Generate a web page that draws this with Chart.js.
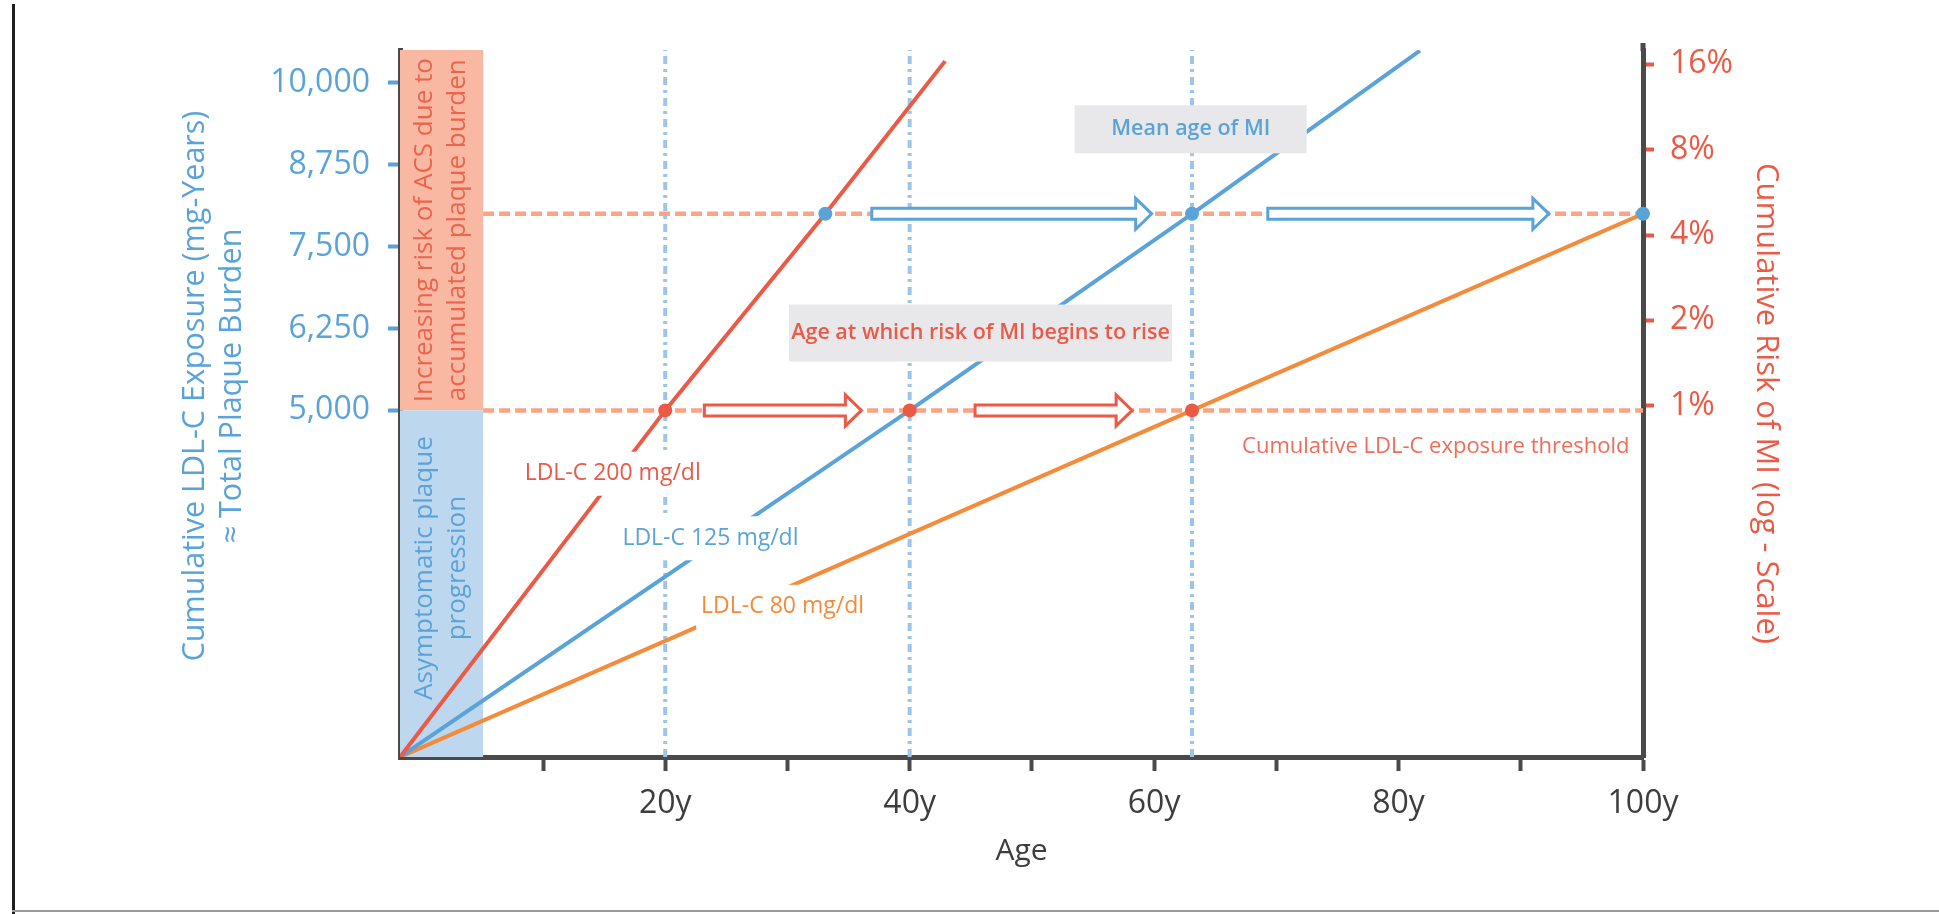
<!DOCTYPE html>
<html><head><meta charset="utf-8">
<script src="https://cdn.jsdelivr.net/npm/chart.js@4.4.1/dist/chart.umd.min.js"></script>
<style>
html,body{margin:0;padding:0;background:#fff;}
#wrap{position:relative;width:1939px;height:914px;overflow:hidden;}
canvas{position:absolute;left:0;top:0;}
#frameL{position:absolute;left:12px;top:4px;width:3px;height:910px;background:#1e1e1e;}
#frameB{position:absolute;left:12px;top:910px;width:1927px;height:2px;background:#9a9a9a;}
</style></head><body>
<div id="wrap"><canvas id="c" width="1939" height="914"></canvas><div id="frameL"></div><div id="frameB"></div></div>
<script>
// ---------------- data ----------------
const ageTicks = [10, 20, 30, 40, 50, 60, 70, 80, 90, 100];
const ageTickLabels = ['', '20y', '', '40y', '', '60y', '', '80y', '', '100y'];
const exposureTicks = [5000, 6250, 7500, 8750, 10000];
const riskTicks = [1, 2, 4, 8, 16];

// lines start at the axes' corner (schematic origin)
const ldl200Ages = [-1.7, 20, 33.1, 42.9];
const ldl200Exposure = [-290, 5000, 8000, 10330];
const ldl125Ages = [-1.7, 40, 63.1, 81.75];
const ldl125Exposure = [-290, 5000, 8000, 10490];
const ldl80Ages = [-1.7, 63.1, 100];
const ldl80Exposure = [-290, 5000, 8000];

const thresholdExposure = 5000;        // cumulative LDL-C exposure threshold (≈1% risk)
const meanMIExposure = 8000;           // exposure at the mean age of MI
const riskRiseAges = [20, 40, 63.1];   // ages at which risk of MI begins to rise
const meanMIAges = [33.1, 63.1, 100];  // mean age of MI per LDL-C level
const markerAges = [20, 40, 63.1];     // vertical reference lines
const bandEndAge = 5.1;

const redArrows = [[23.2, 36.05], [45.35, 58.2]];
const blueArrows = [[36.9, 59.8], [69.3, 92.3]];

// axis ranges
const ageMin = -1.7, ageMax = 100;
const exposureMin = -290, exposureMax = 10500;
const riskMin = 0.0577, riskMax = 17.97;

// ---------------- styles ----------------
const C = {
  red: '#ec5a46', blue: '#5aa3d9', orange: '#f48b3a',
  dash: '#f7a487', dotted: '#9dc5ea', axis: '#4a4a4a',
  bandTop: '#f8b8a1', bandBottom: '#bdd7ee', box: '#e8e8ea',
  redText: '#ea5a48', lightRedText: '#ef6c58', dark: '#3d3d3d'
};
const FONT = '"Open Sans", "Noto Sans", sans-serif';
Chart.defaults.font.family = FONT;

const pts = (xs, ys) => xs.map((x, i) => ({x, y: ys[i]}));
const lineDs = (data, color, extra) => Object.assign({
  type: 'line', data, borderColor: color, borderWidth: 4, pointRadius: 0,
  tension: 0, fill: false, order: 2
}, extra || {});

const datasets = [
  lineDs(pts(ldl200Ages, ldl200Exposure), C.red),
  lineDs(pts(ldl125Ages, ldl125Exposure), C.blue),
  lineDs(pts(ldl80Ages, ldl80Exposure), C.orange),
  lineDs([{x: bandEndAge, y: thresholdExposure}, {x: ageMax, y: thresholdExposure}], C.dash, {borderDash: [11, 5], borderWidth: 4.5, order: 3}),
  lineDs([{x: bandEndAge, y: meanMIExposure}, {x: ageMax, y: meanMIExposure}], C.dash, {borderDash: [11, 5], borderWidth: 4.5, order: 3}),
  ...markerAges.map(a => lineDs([{x: a, y: exposureMin}, {x: a, y: exposureMax}], C.dotted, {borderDash: [8, 5, 3, 5], order: 4})),
  {type: 'scatter', data: riskRiseAges.map(a => ({x: a, y: thresholdExposure})), backgroundColor: C.red,
   borderWidth: 0, pointRadius: 7, order: 0, clip: false},
  {type: 'scatter', data: meanMIAges.map(a => ({x: a, y: meanMIExposure})), backgroundColor: C.blue,
   borderWidth: 0, pointRadius: 7, order: 0, clip: false}
];

function rotText(ctx, lines, cx, cy, lh, font, color, angle) {
  ctx.save();
  ctx.translate(cx, cy);
  ctx.rotate(angle === undefined ? -Math.PI / 2 : angle);
  ctx.font = font; ctx.fillStyle = color; ctx.textAlign = 'center'; ctx.textBaseline = 'middle';
  lines.forEach((t, i) => ctx.fillText(t, 0, (i - (lines.length - 1) / 2) * lh));
  ctx.restore();
}
function arrow(ctx, x0, x1, y, color) {
  const sh = 5.5, hh = 15.5, hl = 16;
  ctx.save();
  ctx.beginPath();
  ctx.moveTo(x0, y - sh); ctx.lineTo(x1 - hl, y - sh); ctx.lineTo(x1 - hl, y - hh);
  ctx.lineTo(x1, y); ctx.lineTo(x1 - hl, y + hh); ctx.lineTo(x1 - hl, y + sh);
  ctx.lineTo(x0, y + sh); ctx.closePath();
  ctx.fillStyle = '#fff'; ctx.fill();
  ctx.lineWidth = 3; ctx.strokeStyle = color; ctx.lineJoin = 'miter'; ctx.stroke();
  ctx.restore();
}
function label(ctx, text, cx, cy, font, color, bg, bw, bh) {
  ctx.save();
  ctx.font = font;
  const w = ctx.measureText(text).width;
  if (bg) {
    ctx.fillStyle = bg;
    const W = bw || (w + 10), H = bh || 44;
    ctx.fillRect(cx - W / 2, cy - H / 2, W, H);
  }
  ctx.fillStyle = color; ctx.textAlign = 'center'; ctx.textBaseline = 'middle';
  ctx.fillText(text, cx, cy);
  ctx.restore();
}

const annotations = {
  id: 'annotations',
  beforeDatasetsDraw(chart) {
    const {ctx, chartArea: ca, scales: {x, y}} = chart;
    const x0 = x.getPixelForValue(ageMin), x1 = x.getPixelForValue(bandEndAge);
    const yt = y.getPixelForValue(thresholdExposure);
    ctx.save();
    ctx.fillStyle = C.bandTop; ctx.fillRect(x0, ca.top, x1 - x0, yt - ca.top);
    ctx.fillStyle = C.bandBottom; ctx.fillRect(x0, yt, x1 - x0, ca.bottom - yt);
    ctx.restore();
    const cx = (x0 + x1) / 2;
    rotText(ctx, ['Increasing risk of ACS due to', 'accumulated plaque burden'], cx, (ca.top + yt) / 2, 33, '26px ' + FONT, '#ea6450');
    rotText(ctx, ['Asymptomatic plaque', 'progression'], cx, yt + (ca.bottom - yt) * 0.455, 33, '26px ' + FONT, C.blue);
    // left axis title (two lines, rotated)
    rotText(ctx, ['Cumulative LDL-C Exposure (mg-Years)', '≈ Total Plaque Burden'], 213.5, 386, 37, '30.5px ' + FONT, C.blue);
  },
  afterDatasetsDraw(chart) {
    const {ctx, chartArea: ca, scales: {x, y}} = chart;
    const X = v => x.getPixelForValue(v), Y = v => y.getPixelForValue(v);
    redArrows.forEach(([a, b]) => arrow(ctx, X(a), X(b), Y(thresholdExposure), C.red));
    blueArrows.forEach(([a, b]) => arrow(ctx, X(a), X(b), Y(meanMIExposure), C.blue));
    label(ctx, 'Mean age of MI', X(63.0), Y(9290), '600 21.5px ' + FONT, C.blue, C.box, 232, 48);
    label(ctx, 'Age at which risk of MI begins to rise', X(45.8), Y(6180), '600 21.5px ' + FONT, C.redText, C.box, 383, 57);
    label(ctx, 'LDL-C 200 mg/dl', X(15.7), Y(4033), '23px ' + FONT, C.redText, '#fff');
    label(ctx, 'LDL-C 125 mg/dl', X(23.7), Y(3048), '23px ' + FONT, C.blue, '#fff');
    label(ctx, 'LDL-C 80 mg/dl', X(29.6), Y(2002), '23px ' + FONT, C.orange, '#fff');
    ctx.save();
    ctx.font = '22px ' + FONT; ctx.fillStyle = C.lightRedText; ctx.textAlign = 'right'; ctx.textBaseline = 'middle';
    ctx.fillText('Cumulative LDL-C exposure threshold', X(98.9), Y(4446));
    // right axis line reaches slightly above the plot
    ctx.strokeStyle = C.axis; ctx.lineWidth = 5;
    ctx.beginPath(); ctx.moveTo(ca.right, ca.top - 7); ctx.lineTo(ca.right, ca.top + 1); ctx.stroke();
    ctx.restore();
  }
};

new Chart(document.getElementById('c'), {
  type: 'line',
  data: {datasets},
  options: {
    responsive: false, animation: false, devicePixelRatio: 1,
    layout: {padding: {top: 50, left: 0, right: 0, bottom: 0}},
    plugins: {legend: {display: false}, tooltip: {enabled: false}},
    scales: {
      x: {
        type: 'linear', min: ageMin, max: ageMax,
        afterBuildTicks: s => { s.ticks = ageTicks.map(v => ({value: v})); },
        afterFit: s => { s.height = 157; },
        ticks: {autoSkip: false, maxRotation: 0, padding: 14, color: C.dark, font: {size: 32},
                callback: (v, i) => ageTickLabels[i]},
        grid: {display: true, drawOnChartArea: false, drawTicks: true, tickLength: 14, tickWidth: 4, tickColor: C.axis},
        border: {display: true, color: C.axis, width: 5},
        title: {display: true, text: 'Age', color: C.dark, font: {size: 30}, padding: {top: 0, bottom: 45}}
      },
      y: {
        type: 'linear', position: 'left', min: exposureMin, max: exposureMax,
        afterBuildTicks: s => { s.ticks = exposureTicks.map(v => ({value: v})); },
        afterFit: s => { s.width = 400; },
        ticks: {padding: 18, color: C.blue, font: {size: 32}, callback: v => v.toLocaleString('en-US')},
        grid: {display: true, drawOnChartArea: false, drawTicks: true, tickLength: 12, tickWidth: 4, tickColor: C.blue},
        border: {display: true, color: C.axis, width: 5},
        title: {display: false}
      },
      y2: {
        type: 'logarithmic', position: 'right', min: riskMin, max: riskMax,
        afterBuildTicks: s => { s.ticks = riskTicks.map(v => ({value: v})); },
        afterFit: s => { s.width = 296; },
        ticks: {padding: 16, color: C.red, font: {size: 32}, callback: v => v + '%'},
        grid: {display: true, drawOnChartArea: false, drawTicks: true, tickLength: 11, tickWidth: 4, tickColor: C.red},
        border: {display: true, color: C.axis, width: 5},
        title: {display: true, text: 'Cumulative Risk of MI (log - Scale)', color: C.red, font: {size: 31},
                padding: {top: 155, bottom: 0}}
      }
    }
  },
  plugins: [annotations]
});
</script>
</body></html>
